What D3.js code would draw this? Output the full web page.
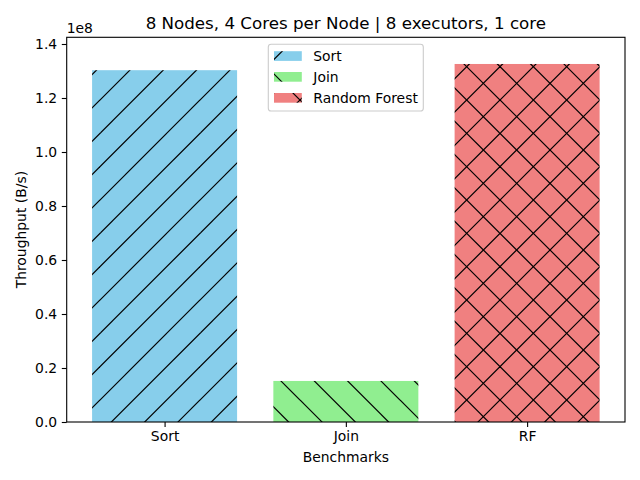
<!DOCTYPE html>
<html><head><meta charset="utf-8">
<script src="https://cdn.jsdelivr.net/npm/d3@7"></script>
<style>
body{margin:0;background:#fff;}
text{font-family:"DejaVu Sans",sans-serif;fill:#000;}
</style></head>
<body>
<svg id="c" width="640" height="480"></svg>
<script>
const categories = ["Sort", "Join", "RF"];
const legendLabels = ["Sort", "Join", "Random Forest"];
const values = [1.303e8, 0.152e8, 1.326e8];
const colors = ["#87CEEB", "#90EE90", "#F08080"];
const hatches = ["/", "\\", "x"];
const yTicks = [0, 0.2e8, 0.4e8, 0.6e8, 0.8e8, 1.0e8, 1.2e8, 1.4e8];
const yMax = 1.4248e8;
const titleText = "8 Nodes, 4 Cores per Node | 8 executors, 1 core";

const L = 66.7, R = 625, T = 37.3, B = 422;
const svg = d3.select("#c");
const defs = svg.append("defs");

const x = d3.scaleLinear().domain([-0.54, 2.54]).range([L, R]);
const y = d3.scaleLinear().domain([0, yMax]).range([B, T]);
const bw = 0.8;

function makePattern(id, color, hatch) {
  const p = defs.append("pattern").attr("id", id)
    .attr("patternUnits", "userSpaceOnUse").attr("x", 0).attr("y", 0)
    .attr("width", 100).attr("height", 100);
  p.append("rect").attr("width", 100).attr("height", 100).attr("fill", color);
  const s = 100 / 3;
  const lines = [];
  if (hatch === "/" || hatch === "x") {
    for (let k = -1; k <= 7; k++) { const c = k * s; lines.push([c + 10, -10, c - 110, 110]); }
  }
  if (hatch === "\\" || hatch === "x") {
    for (let k = -4; k <= 4; k++) { const c = k * s; lines.push([-c - 10, -10, 110 - c, 110]); }
  }
  lines.forEach(l => p.append("line").attr("x1", l[0]).attr("y1", l[1]).attr("x2", l[2]).attr("y2", l[3])
    .attr("stroke", "#000").attr("stroke-width", 1.2));
}
categories.forEach((c, i) => makePattern("h" + i, colors[i], hatches[i]));

// bars
svg.selectAll("rect.bar").data(values).enter().append("rect").attr("class", "bar")
  .attr("x", (d, i) => x(i - bw / 2)).attr("width", (d, i) => x(i + bw / 2) - x(i - bw / 2))
  .attr("y", d => y(d)).attr("height", d => B - y(d))
  .attr("fill", (d, i) => `url(#h${i})`);

// spines
const sp = svg.append("g").attr("stroke", "#000").attr("stroke-width", 1.1).attr("fill", "none");
sp.append("rect").attr("x", L).attr("y", T).attr("width", R - L).attr("height", B - T);

// y axis
const yAxis = d3.axisLeft(y).tickValues(yTicks).tickFormat(d => (d / 1e8).toFixed(1))
  .tickSize(4.9).tickPadding(4.6).tickSizeOuter(0);
const gy = svg.append("g").attr("transform", `translate(${L},0)`).call(yAxis);
gy.select(".domain").remove();
gy.selectAll("line").attr("stroke", "#000").attr("stroke-width", 1.1);
gy.selectAll("text").attr("font-size", "13.9px").attr("font-family", "DejaVu Sans").attr("fill", "#000");

// x axis
const xAxis = d3.axisBottom(x).tickValues(categories.map((c, i) => i)).tickFormat(i => categories[i])
  .tickSize(4.9).tickPadding(3.8).tickSizeOuter(0);
const gx = svg.append("g").attr("transform", `translate(0,${B})`).call(xAxis);
gx.select(".domain").remove();
gx.selectAll("line").attr("stroke", "#000").attr("stroke-width", 1.1);
gx.selectAll("text").attr("font-size", "13.9px").attr("font-family", "DejaVu Sans").attr("fill", "#000");

// offset text
svg.append("text").attr("x", L).attr("y", 33).attr("font-size", "13.9px").text("1e8");

// labels
svg.append("text").attr("x", (L + R) / 2).attr("y", 462).attr("text-anchor", "middle")
  .attr("font-size", "13.9px").text("Benchmarks");
svg.append("text").attr("transform", `translate(25.5,${(T + B) / 2}) rotate(-90)`).attr("text-anchor", "middle")
  .attr("font-size", "13.9px").text("Throughput (B/s)");
svg.append("text").attr("x", (L + R) / 2).attr("y", 29).attr("text-anchor", "middle")
  .attr("font-size", "16.7px").text(titleText);

// legend
const lg = svg.append("g");
lg.append("rect").attr("x", 268.3).attr("y", 44.3).attr("width", 155).attr("height", 66.7)
  .attr("rx", 2.8).attr("fill", "#fff").attr("fill-opacity", 0.8).attr("stroke", "#ccc").attr("stroke-width", 1.1);
const rowY = [56.2, 77, 98];
legendLabels.forEach((lab, i) => {
  lg.append("rect").attr("x", 274).attr("y", rowY[i] - 5).attr("width", 27.8).attr("height", 9.7)
    .attr("fill", `url(#h${i})`);
  lg.append("text").attr("x", 313.3).attr("y", rowY[i] + 5).attr("font-size", "13.9px").text(lab);
});
</script>
</body></html>
